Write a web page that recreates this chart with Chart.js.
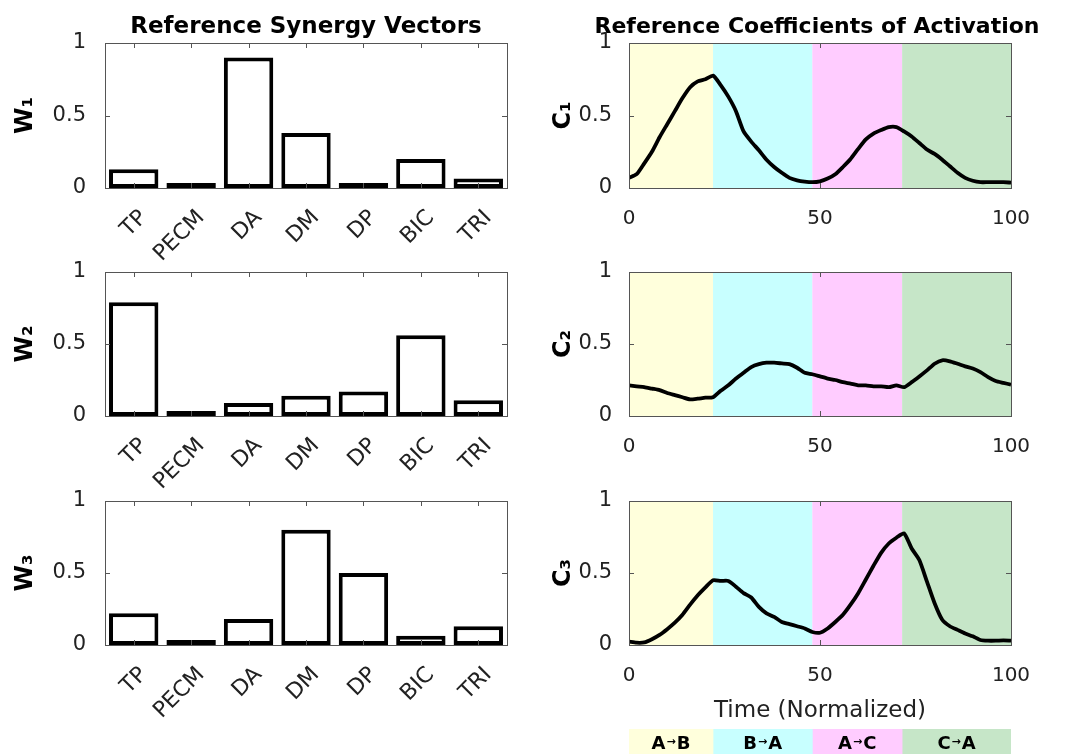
<!DOCTYPE html>
<html>
<head>
<meta charset="utf-8">
<script src="https://cdn.jsdelivr.net/npm/chart.js@4.4.1/dist/chart.umd.min.js"></script>
<style>
  html, body { margin: 0; padding: 0; background: #fff; }
  #wrap { position: relative; width: 1089px; height: 754px; }
  #wrap canvas { position: absolute; left: 0; top: 0; }
</style>
</head>
<body>
<div id="wrap">
  <canvas id="w1" width="1089" height="754"></canvas>
  <canvas id="w2" width="1089" height="754"></canvas>
  <canvas id="w3" width="1089" height="754"></canvas>
  <canvas id="c1" width="1089" height="754"></canvas>
  <canvas id="c2" width="1089" height="754"></canvas>
  <canvas id="c3" width="1089" height="754"></canvas>
  <canvas id="strip" width="1089" height="754"></canvas>
</div>
<script>
// synergy vectors (bar heights)
const muscles = ['TP', 'PECM', 'DA', 'DM', 'DP', 'BIC', 'TRI'];
const w1 = [0.13, 0.005, 0.9, 0.38, 0.02, 0.2, 0.065];
const w2 = [0.79, 0.005, 0.09, 0.14, 0.17, 0.56, 0.11];
const w3 = [0.22, 0.005, 0.18, 0.8, 0.5, 0.065, 0.13];

// activation coefficients, read every 2 % of the cycle
const time = [0, 2, 4, 6, 8, 10, 12, 14, 16, 18, 20, 22, 24, 26, 28, 30, 32, 34, 36, 38, 40,
  42, 44, 46, 48, 50, 52, 54, 56, 58, 60, 62, 64, 66, 68, 70, 72, 74, 76, 78, 80,
  82, 84, 86, 88, 90, 92, 94, 96, 98, 100];
const c1 = [0.07, 0.095, 0.17, 0.25, 0.35, 0.44, 0.53, 0.62, 0.695, 0.735, 0.75,
  0.775, 0.71, 0.63, 0.53, 0.39, 0.32, 0.26, 0.195, 0.145, 0.105,
  0.07, 0.053, 0.044, 0.04, 0.046, 0.065, 0.095, 0.145, 0.2, 0.27,
  0.335, 0.375, 0.4, 0.42, 0.42, 0.39, 0.355, 0.31, 0.265, 0.235,
  0.195, 0.15, 0.105, 0.07, 0.05, 0.04, 0.04, 0.04, 0.04, 0.037];
const c2 = [0.213, 0.206, 0.2, 0.19, 0.18, 0.16, 0.145, 0.13, 0.115, 0.12, 0.127,
  0.13, 0.175, 0.213, 0.26, 0.3, 0.34, 0.36, 0.37, 0.37, 0.365,
  0.36, 0.335, 0.3, 0.29, 0.275, 0.26, 0.25, 0.235, 0.225, 0.213,
  0.213, 0.206, 0.206, 0.2, 0.213, 0.2, 0.235, 0.275, 0.317, 0.363,
  0.387, 0.38, 0.363, 0.345, 0.33, 0.305, 0.27, 0.243, 0.23, 0.218];
const c3 = [0.023, 0.016, 0.018, 0.04, 0.07, 0.11, 0.155, 0.21, 0.28, 0.345, 0.4,
  0.45, 0.445, 0.445, 0.405, 0.36, 0.33, 0.265, 0.22, 0.195, 0.16,
  0.145, 0.13, 0.115, 0.09, 0.085, 0.115, 0.16, 0.21, 0.28, 0.36,
  0.455, 0.55, 0.64, 0.705, 0.745, 0.775, 0.67, 0.59, 0.44, 0.29,
  0.175, 0.13, 0.105, 0.08, 0.06, 0.035, 0.03, 0.03, 0.032, 0.03];

// movement phases
const phaseEdges = [0, 22, 48, 71.5, 100];
const phaseLabels = ['A→B', 'B→A', 'A→C', 'C→A'];
const phaseColors = ['#FFFFDC', '#C8FFFF', '#FFCCFF', '#C6E6C8'];

const yTicks = [0, 0.5, 1];
const timeTicks = [0, 50, 100];

const FONT = 'DejaVu Sans';
const INK = '#222';
const W = 1089, H = 754;

// MATLAB style box with inward ticks
const boxPlugin = {
  id: 'box',
  afterDraw(chart) {
    const { ctx, chartArea: a, scales } = chart;
    const len = 5;
    ctx.save();
    ctx.strokeStyle = '#555';
    ctx.lineWidth = 1;
    ctx.beginPath();
    scales.x.ticks.forEach((t, i) => {
      const px = Math.round(scales.x.getPixelForTick(i)) + 0.5;
      ctx.moveTo(px, a.bottom); ctx.lineTo(px, a.bottom - len);
      ctx.moveTo(px, a.top); ctx.lineTo(px, a.top + len);
    });
    scales.y.ticks.forEach((t, i) => {
      const py = Math.round(scales.y.getPixelForTick(i)) + 0.5;
      ctx.moveTo(a.left, py); ctx.lineTo(a.left + len, py);
      ctx.moveTo(a.right, py); ctx.lineTo(a.right - len, py);
    });
    ctx.stroke();
    ctx.strokeRect(Math.round(a.left) + 0.5, Math.round(a.top) + 0.5,
      Math.round(a.width), Math.round(a.height));
    ctx.restore();
  }
};

// column heading, allowed to run wider than the plot box
const headline = {
  id: 'headline',
  afterDraw(chart, args, opts) {
    if (!opts.text) return;
    const { ctx, chartArea: a } = chart;
    ctx.save();
    ctx.font = 'bold ' + opts.size + 'px "' + FONT + '"';
    ctx.fillStyle = '#000';
    ctx.textAlign = 'center';
    ctx.textBaseline = 'alphabetic';
    ctx.fillText(opts.text, (a.left + a.right) / 2 - (opts.dx || 0), a.top - 10);
    ctx.restore();
  }
};

// coloured phase bands behind the curves
const phasePlugin = {
  id: 'phases',
  beforeDatasetsDraw(chart) {
    const { ctx, chartArea: a, scales: { x } } = chart;
    ctx.save();
    phaseColors.forEach((c, i) => {
      const x0 = x.getPixelForValue(phaseEdges[i]);
      const x1 = x.getPixelForValue(phaseEdges[i + 1]);
      ctx.fillStyle = c;
      ctx.fillRect(x0, a.top, x1 - x0, a.height);
    });
    ctx.restore();
  }
};

// "A→B" style labels, arrow set smaller than the letters
const stripLabels = {
  id: 'stripLabels',
  afterDatasetsDraw(chart) {
    const { ctx } = chart;
    const big = 'bold 18px "' + FONT + '"';
    const small = 'bold 11px "' + FONT + '"';
    ctx.save();
    ctx.fillStyle = '#000';
    ctx.textBaseline = 'alphabetic';
    ctx.textAlign = 'left';
    chart.data.datasets.forEach((ds, i) => {
      const el = chart.getDatasetMeta(i).data[0];
      const parts = ds.label.split('→');
      ctx.font = big;
      const wa = ctx.measureText(parts[0]).width;
      const wb = ctx.measureText(parts[1]).width;
      ctx.font = small;
      const wr = ctx.measureText('→').width;
      let x = (el.x + el.base) / 2 - (wa + wr + wb + 2) / 2;
      const y = el.y + 7;
      ctx.font = big;
      ctx.fillText(parts[0], x, y);
      x += wa + 1;
      ctx.font = small;
      ctx.fillText('→', x, y - 4);
      x += wr + 1;
      ctx.font = big;
      ctx.fillText(parts[1], x, y);
    });
    ctx.restore();
  }
};

function yAxis(label, width, titlePad, labelPad) {
  return {
    min: 0, max: 1,
    grid: { display: false }, border: { display: false },
    afterBuildTicks: s => { s.ticks = yTicks.map(v => ({ value: v })); },
    ticks: { padding: labelPad, color: INK, font: { family: FONT, size: 21 }, callback: v => String(v) },
    title: { display: true, text: label, color: '#000', font: { family: FONT, size: 24, weight: 'bold' },
      padding: { top: titlePad, bottom: 0 } },
    afterFit: s => { s.width = width; }
  };
}

function barChart(id, values, label, top, bottom, title) {
  const axisH = 80;
  return new Chart(document.getElementById(id), {
    type: 'bar',
    data: {
      labels: muscles,
      datasets: [{
        data: values, backgroundColor: '#fff', borderColor: '#000', borderWidth: 4,
        borderSkipped: false, barPercentage: 0.86, categoryPercentage: 1,
        minBarLength: 5, inflateAmount: 0
      }]
    },
    options: {
      responsive: false, animation: false, devicePixelRatio: 1,
      layout: { padding: { left: 10, right: W - 507, top: top, bottom: H - bottom - axisH } },
      plugins: { legend: { display: false }, tooltip: { enabled: false }, headline: { text: title, size: 23 } },
      scales: {
        x: {
          grid: { display: false }, border: { display: false },
          ticks: { autoSkip: false, minRotation: 45, maxRotation: 45, padding: 9, labelOffset: 10,
            color: INK, font: { family: FONT, size: 22 } },
          afterFit: s => { s.height = axisH; }
        },
        y: yAxis(label, 95, 1, 11)
      }
    },
    plugins: [boxPlugin, headline]
  });
}

function lineChart(id, values, label, top, bottom, title, xTitle) {
  const axisH = xTitle ? 80 : 50;
  return new Chart(document.getElementById(id), {
    type: 'line',
    data: {
      datasets: [{
        data: time.map((t, i) => ({ x: t, y: values[i] })),
        borderColor: '#000', borderWidth: 3.8, pointRadius: 0, tension: 0.2, fill: false
      }]
    },
    options: {
      responsive: false, animation: false, devicePixelRatio: 1,
      layout: { padding: { left: 549, right: W - 1011, top: top, bottom: H - bottom - axisH } },
      plugins: { legend: { display: false }, tooltip: { enabled: false }, headline: { text: title, size: 22, dx: 3 } },
      scales: {
        x: {
          type: 'linear', min: 0, max: 100,
          grid: { display: false }, border: { display: false },
          afterBuildTicks: s => { s.ticks = timeTicks.map(v => ({ value: v })); },
          ticks: { padding: 11, color: INK, font: { family: FONT, size: 20 } },
          title: { display: !!xTitle, text: xTitle || '', color: INK, font: { family: FONT, size: 23 },
            padding: { top: 0, bottom: 0 } },
          afterFit: s => { s.height = axisH; }
        },
        y: yAxis(label, 80, 0, 9)
      }
    },
    plugins: [phasePlugin, boxPlugin, headline]
  });
}

barChart('w1', w1, 'W₁', 43, 188, 'Reference Synergy Vectors');
barChart('w2', w2, 'W₂', 272, 416, null);
barChart('w3', w3, 'W₃', 501, 645, null);

lineChart('c1', c1, 'C₁', 43, 188, 'Reference Coefficients of Activation', null);
lineChart('c2', c2, 'C₂', 272, 416, null, null);
lineChart('c3', c3, 'C₃', 501, 645, null, 'Time (Normalized)');

// phase legend strip under the time axis
new Chart(document.getElementById('strip'), {
  type: 'bar',
  data: {
    labels: ['phase'],
    datasets: phaseLabels.map((lab, i) => ({
      label: lab,
      data: [[phaseEdges[i], phaseEdges[i + 1]]],
      backgroundColor: phaseColors[i], borderWidth: 0,
      barPercentage: 1, categoryPercentage: 1, grouped: false
    }))
  },
  options: {
    indexAxis: 'y', responsive: false, animation: false, devicePixelRatio: 1,
    layout: { padding: { left: 629, right: W - 1011, top: 729, bottom: 0 } },
    plugins: { legend: { display: false }, tooltip: { enabled: false } },
    scales: { x: { display: false, min: 0, max: 100 }, y: { display: false } }
  },
  plugins: [stripLabels]
});
</script>
</body>
</html>
